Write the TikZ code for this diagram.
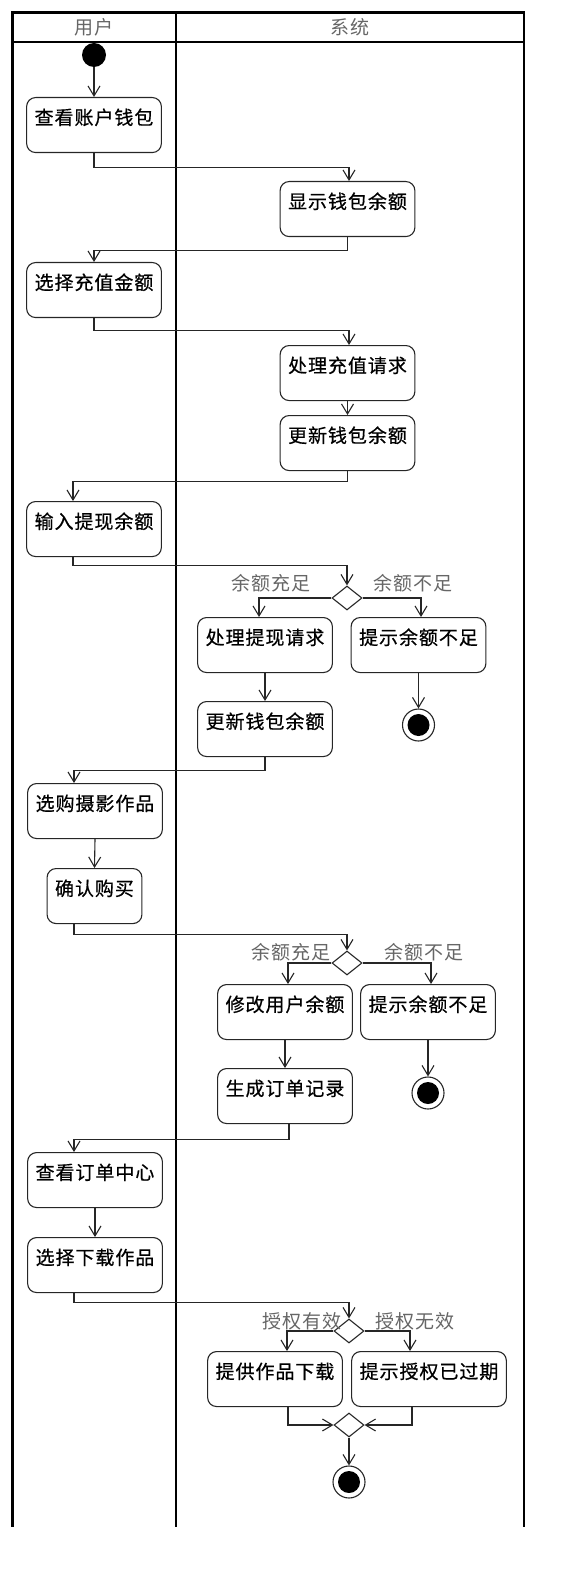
\documentclass[tikz,border=0pt]{standalone}
\usepackage{fontspec}
\newfontfamily\cjk[LetterSpace=5]{Noto Sans CJK SC}
\newfontfamily\cjkact[LetterSpace=5,FakeBold=0.6]{Noto Sans CJK SC}
\usetikzlibrary{shapes.geometric,arrows.meta}

\tikzset{
  lane/.style={line width=2.6pt, draw=black},
  lanehead/.style={text=black!60, font=\cjk\fontsize{19}{21}\selectfont},
  act/.style={draw=black!85, rounded corners=9pt, line width=1.1pt, anchor=north,
    inner xsep=8pt, inner ysep=0pt, text height=27pt, text depth=28pt,
    font=\cjkact\fontsize{19}{21}\selectfont},
  branch/.style={diamond, draw=black!85, line width=1.1pt, fill=white,
    minimum width=30pt, minimum height=24pt, inner sep=0pt},
  startdot/.style={circle, fill=black, minimum size=24pt, inner sep=0pt},
  stopdot/.style={circle, draw=black!85, line width=1.1pt, minimum size=32pt, inner sep=0pt,
    path picture={\fill[black] (path picture bounding box.center) circle (11pt);}},
  guard/.style={text=black!60, inner sep=1pt, font=\cjk\fontsize{19}{21}\selectfont},
  flow/.style={line width=1.1pt, draw=black!85, -{Straight Barb[length=10pt,width=12pt]}}
}

\begin{document}
\begin{tikzpicture}[x=1pt,y=-1pt]
  \useasboundingbox (0,0) rectangle (576,1578);

  % swimlanes
  \draw[lane] (12.7,12.7) rectangle (524,42);
  \draw[lane] (12.7,42) -- (12.7,1527);
  \draw[lane] (176,12.7) -- (176,1527);
  \draw[lane] (524,42) -- (524,1527);
  \node[lanehead] (huser) at (94,27) {用户};
  \node[lanehead] (hsys) at (350,27) {系统};

  % wallet and top-up
  \node[startdot] (start) at (94,55) {};
  \node[act] (a1) at (94,97) {查看账户钱包};
  \node[act] (a2) at (347.5,181) {显示钱包余额};
  \node[act] (a3) at (94,262) {选择充值金额};
  \node[act] (a4) at (347.5,345) {处理充值请求};
  \node[act] (a5) at (347.5,415) {更新钱包余额};

  % withdrawal
  \node[act] (a6) at (94,501) {输入提现余额};
  \node[branch] (d1) at (347,598) {};
  \node[guard] (g1) at (271,583) {余额充足};
  \node[guard] (g2) at (413,583) {余额不足};
  \node[act] (a7) at (265,617) {处理提现请求};
  \node[act] (a8) at (418.5,617) {提示余额不足};
  \node[act] (a9) at (265,701) {更新钱包余额};
  \node[stopdot] (e1) at (418.5,725) {};

  % purchase
  \node[act] (a10) at (95,783) {选购摄影作品};
  \node[act] (a11) at (94.5,868) {确认购买};
  \node[branch] (d2) at (347,963) {};
  \node[guard] (g3) at (291,952) {余额充足};
  \node[guard] (g4) at (424,952) {余额不足};
  \node[act] (a12) at (285,984) {修改用户余额};
  \node[act] (a13) at (428,984) {提示余额不足};
  \node[act] (a14) at (285,1068) {生成订单记录};
  \node[stopdot] (e2) at (428,1093) {};

  % download
  \node[act] (a15) at (95,1152) {查看订单中心};
  \node[act] (a16) at (95,1237) {选择下载作品};
  \node[branch] (d3) at (349,1331) {};
  \node[guard] (g5) at (302,1321) {授权有效};
  \node[guard] (g6) at (415,1321) {授权无效};
  \node[act] (a17) at (275,1351) {提供作品下载};
  \node[act] (a18) at (429,1351) {提示授权已过期};
  \node[branch] (m1) at (349,1425) {};
  \node[stopdot] (e3) at (349,1482) {};

  % connectors
  \draw[flow] (start) -- (a1.north);
  \draw[flow] (a1.south) -- ++(0,14) -| ([xshift=1.5pt]a2.north);
  \draw[flow] (a2.south) -- ++(0,13) -| (a3.north);
  \draw[flow] (a3.south) -- ++(0,12) -| ([xshift=1.5pt]a4.north);
  \draw[flow] (a4.south) -- (a5.north);
  \draw[flow] (a5.south) -- ++(0,10) -| ([xshift=-21pt]a6.north);
  \draw[flow] ([xshift=-21pt]a6.south) -- ++(0,8) -| (d1.north);
  \draw[flow] (d1.west) -| ([xshift=-6pt]a7.north);
  \draw[flow] (d1.east) -| ([xshift=2.5pt]a8.north);
  \draw[flow] (a7.south) -- (a9.north);
  \draw[flow] (a8.south) -- (e1.north);
  \draw[flow] (a9.south) -- ++(0,13) -| ([xshift=-21pt]a10.north);
  \draw[flow] (a10.south) -- (a11.north);
  \draw[flow] ([xshift=-20.5pt]a11.south) -- ++(0,10) -| (d2.north);
  \draw[flow] (d2.west) -| ([xshift=3pt]a12.north);
  \draw[flow] (d2.east) -| ([xshift=3pt]a13.north);
  \draw[flow] (a12.south) -- (a14.north);
  \draw[flow] (a13.south) -- (e2.north);
  \draw[flow] ([xshift=4pt]a14.south) -- ++(0,15) -| ([xshift=-21pt]a15.north);
  \draw[flow] (a15.south) -- (a16.north);
  \draw[flow] ([xshift=-21pt]a16.south) -- ++(0,9) -| (d3.north);
  \draw[flow] (d3.west) -| ([xshift=12pt]a17.north);
  \draw[flow] (d3.east) -| ([xshift=-19pt]a18.north);
  \draw[flow] ([xshift=13pt]a17.south) |- (m1.west);
  \draw[flow] ([xshift=-17pt]a18.south) |- (m1.east);
  \draw[flow] (m1.south) -- (e3.north);
\end{tikzpicture}
\end{document}
